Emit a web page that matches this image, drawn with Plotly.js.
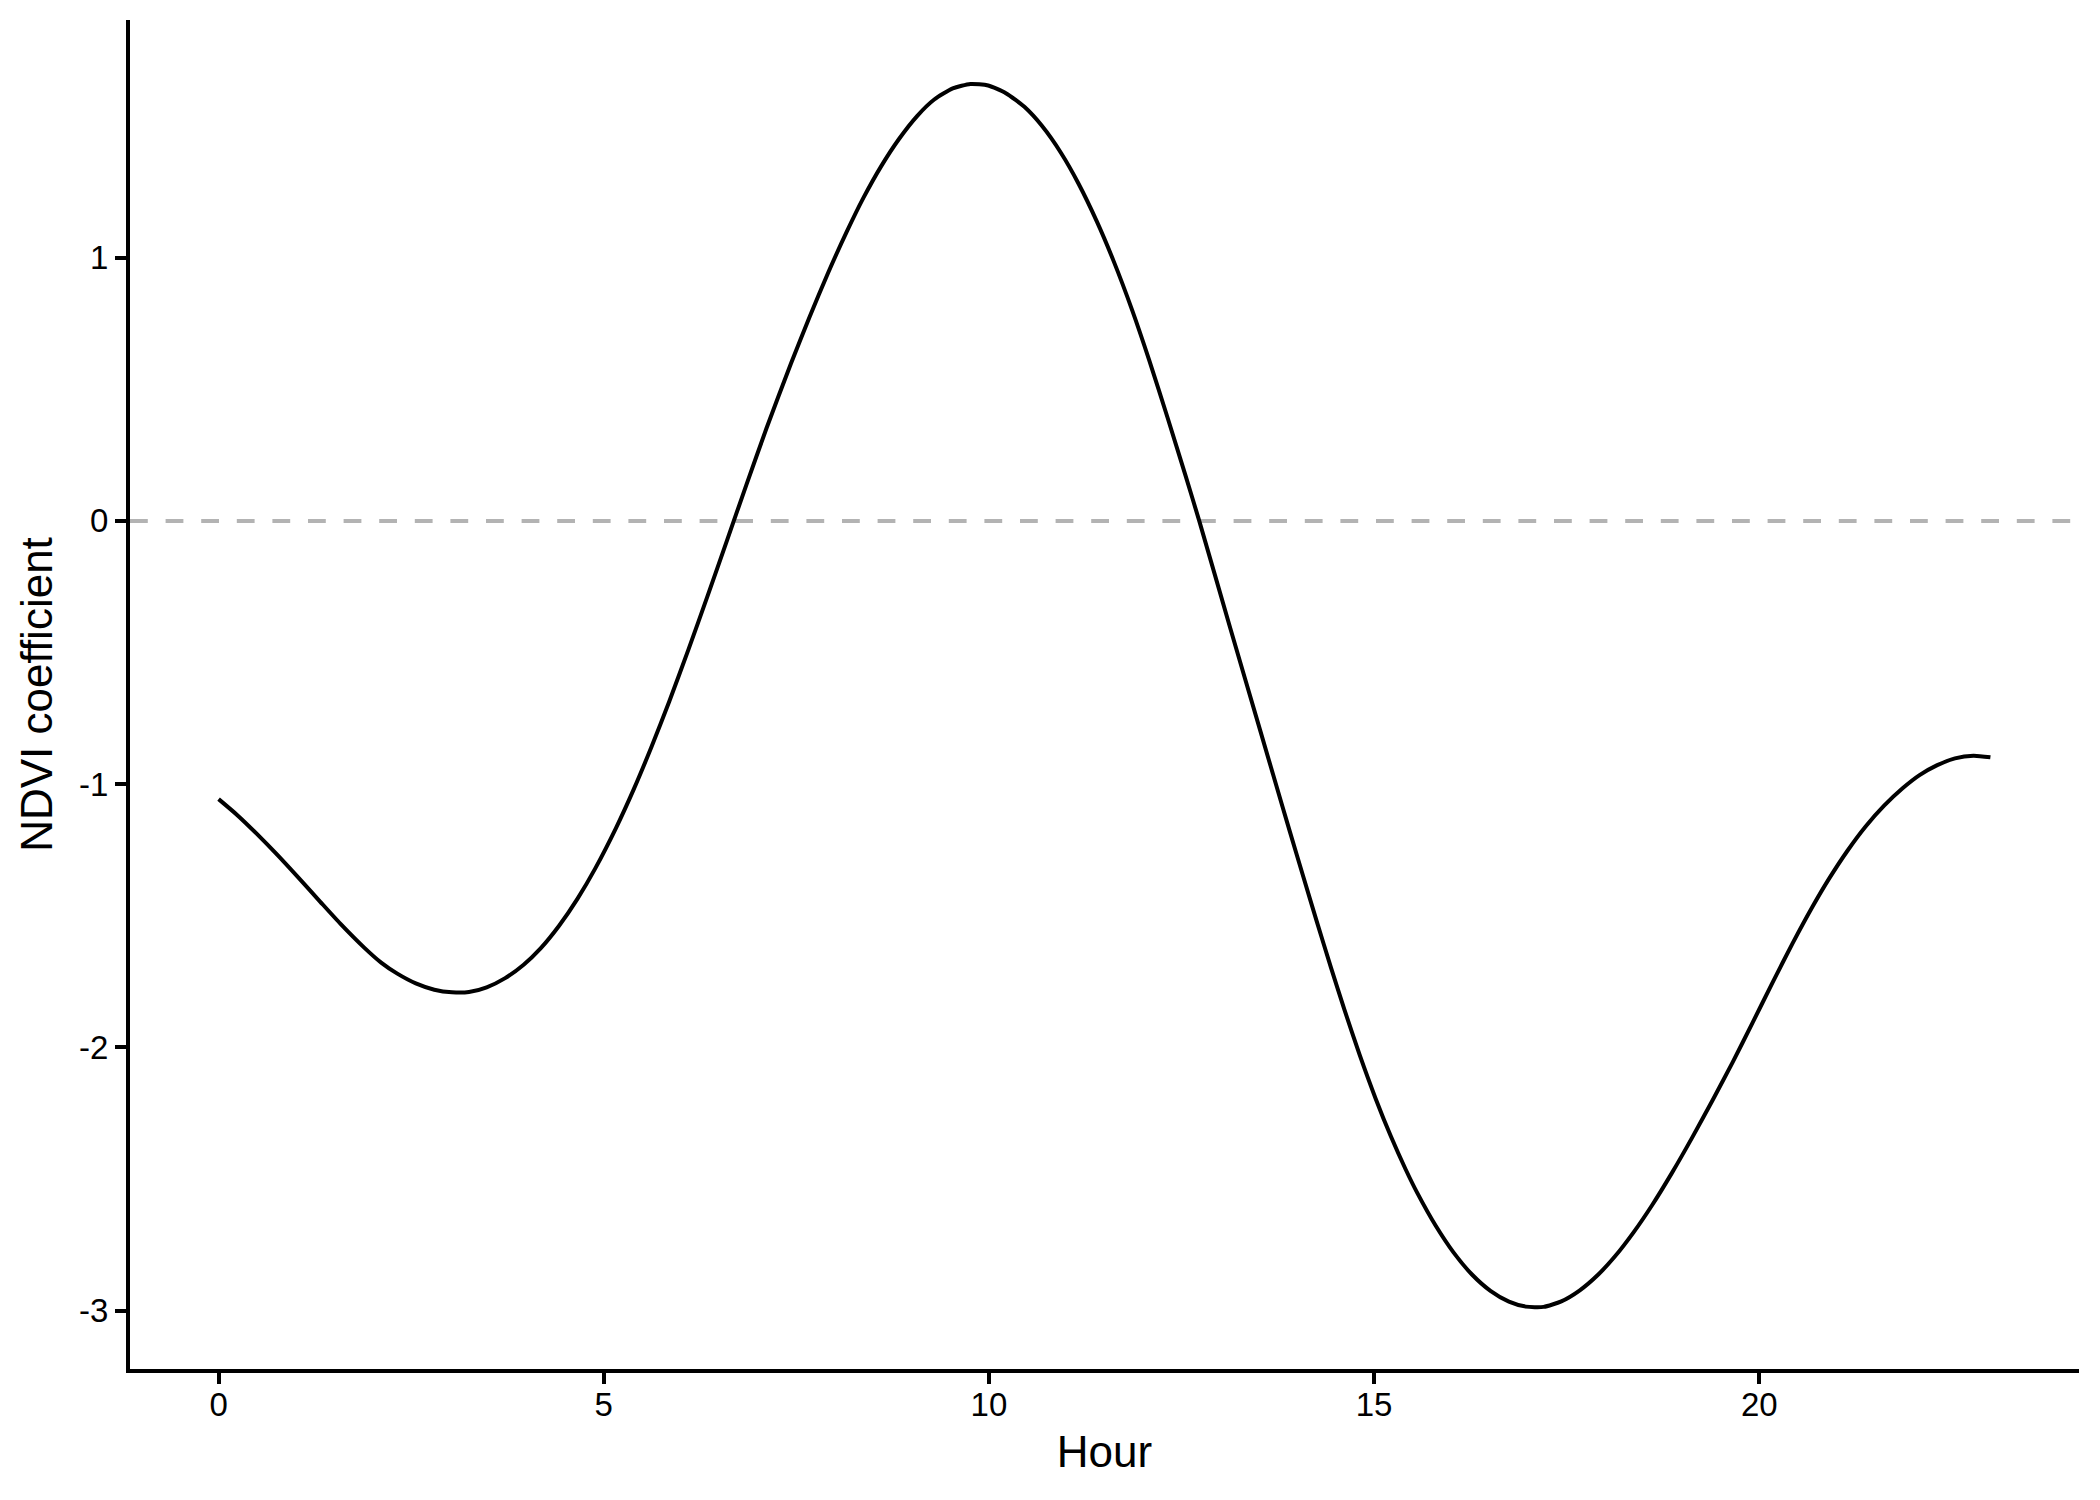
<!DOCTYPE html>
<html>
<head>
<meta charset="utf-8">
<script src="https://cdn.plot.ly/plotly-3.0.1.min.js"></script>
<style>
  html, body { margin: 0; padding: 0; background: #ffffff; }
  #chart { width: 2100px; height: 1500px; }
</style>
</head>
<body>
<div id="chart"></div>
<script>
// Hour of day (x) and smoothed NDVI coefficient (y)
const hours = [
  0, 0.24, 0.50, 0.76, 1.06, 1.32, 1.58, 1.89, 2.11, 2.32,
  2.56, 2.80, 3.03, 3.25, 3.48, 3.72, 3.96, 4.18, 4.42, 4.66,
  4.89, 5.16, 5.39, 5.62, 5.85, 6.10, 6.35, 6.60, 6.85, 7.11,
  7.43, 7.67, 7.91, 8.15, 8.37, 8.60, 8.83, 9.07, 9.29, 9.53,
  9.76, 9.99, 10.22, 10.46, 10.69, 10.94, 11.16, 11.40, 11.62, 11.86,
  12.08, 12.32, 12.55, 12.73, 13.13, 13.52, 13.81, 13.91, 14.08, 14.26,
  14.44, 14.61, 14.81, 15.02, 15.22, 15.41, 15.56, 15.80, 16.03, 16.27,
  16.51, 16.75, 16.97, 17.20, 17.43, 17.67, 17.91, 18.13, 18.37, 18.61,
  18.87, 19.13, 19.39, 19.65, 19.91, 20.17, 20.43, 20.69, 20.90, 21.14,
  21.38, 21.62, 21.86, 22.08, 22.31, 22.54, 22.78, 23.0
];
const ndviCoef = [
  -1.057, -1.117, -1.190, -1.268, -1.363, -1.447, -1.530, -1.621, -1.678, -1.720,
  -1.757, -1.781, -1.791, -1.790, -1.772, -1.737, -1.686, -1.624, -1.538, -1.435,
  -1.320, -1.166, -1.019, -0.858, -0.686, -0.488, -0.283, -0.074, 0.136, 0.350,
  0.598, 0.774, 0.941, 1.096, 1.227, 1.347, 1.450, 1.539, 1.601, 1.643,
  1.660, 1.654, 1.625, 1.573, 1.500, 1.396, 1.283, 1.138, 0.986, 0.800,
  0.611, 0.391, 0.174, 0.000, -0.405, -0.795, -1.085, -1.184, -1.351, -1.526,
  -1.697, -1.853, -2.027, -2.195, -2.340, -2.464, -2.553, -2.678, -2.779, -2.863,
  -2.925, -2.966, -2.985, -2.986, -2.965, -2.923, -2.863, -2.793, -2.702, -2.599,
  -2.475, -2.342, -2.203, -2.059, -1.908, -1.755, -1.606, -1.466, -1.362, -1.255,
  -1.161, -1.082, -1.016, -0.966, -0.928, -0.902, -0.892, -0.898
];
const xTicks = [0, 5, 10, 15, 20];
const yTicks = [-3, -2, -1, 0, 1];
const refLineY = 0;

const FONT = '"Liberation Sans", Arial, Helvetica, sans-serif';

const trace = {
  x: hours,
  y: ndviCoef,
  type: 'scatter',
  mode: 'lines',
  line: { color: '#000000', width: 4, shape: 'spline', smoothing: 0.6 },
  hoverinfo: 'skip',
  showlegend: false
};

const layout = {
  width: 2100,
  height: 1500,
  paper_bgcolor: '#ffffff',
  plot_bgcolor: '#ffffff',
  margin: { l: 130, r: 21, t: 20, b: 131, pad: 0 },
  font: { family: FONT, color: '#000000' },
  showlegend: false,
  xaxis: {
    range: [-1.15, 24.15],
    tickmode: 'array',
    tickvals: xTicks,
    ticktext: xTicks.map(String),
    showgrid: false,
    zeroline: false,
    showline: true,
    linecolor: '#000000',
    linewidth: 4,
    ticks: 'outside',
    ticklen: 11,
    tickwidth: 4,
    tickcolor: '#000000',
    ticklabelstandoff: -8,
    tickfont: { family: FONT, size: 33, color: '#000000' },
    title: { text: 'Hour', font: { family: FONT, size: 44, color: '#000000' }, standoff: 16 }
  },
  yaxis: {
    range: [-3.222, 1.903],
    tickmode: 'array',
    tickvals: yTicks,
    ticktext: yTicks.map(String),
    showgrid: false,
    zeroline: false,
    showline: true,
    linecolor: '#000000',
    linewidth: 4,
    ticks: 'outside',
    ticklen: 11,
    tickwidth: 4,
    tickcolor: '#000000',
    tickfont: { family: FONT, size: 33, color: '#000000' },
    title: { text: 'NDVI coefficient', font: { family: FONT, size: 44, color: '#000000' }, standoff: 14 }
  },
  shapes: [{
    type: 'line',
    xref: 'paper', x0: 0, x1: 1,
    yref: 'y', y0: refLineY, y1: refLineY,
    line: { color: '#b3b3b3', width: 4, dash: '17.8px,17.8px' },
    layer: 'below'
  }]
};

Plotly.newPlot('chart', [trace], layout, { displayModeBar: false, staticPlot: true });
</script>
</body>
</html>
